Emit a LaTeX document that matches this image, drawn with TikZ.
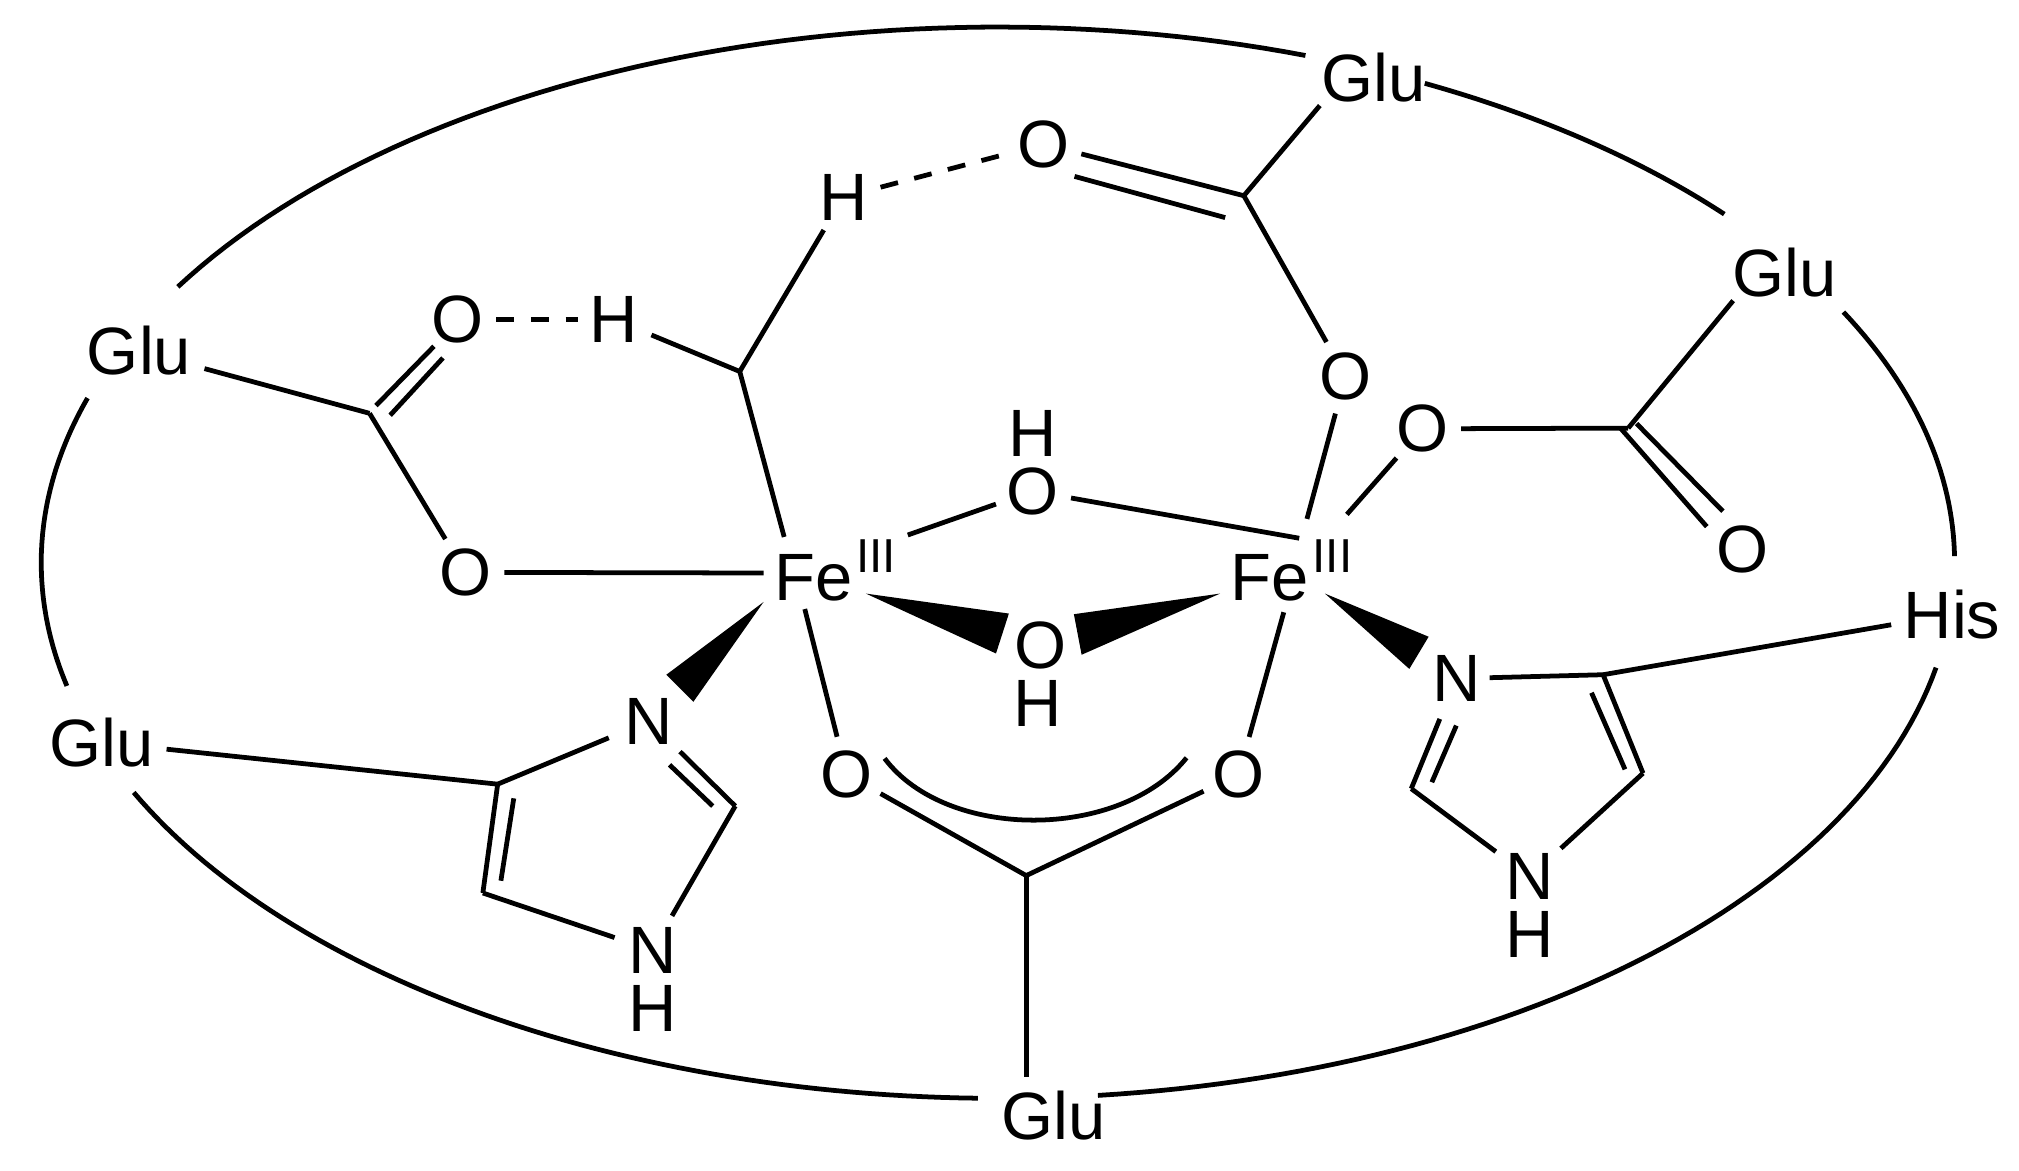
\documentclass[tikz,border=0pt]{standalone}
\usepackage{fontspec}
\setmainfont{Liberation Sans}
\newcommand{\ringarc}[2]{\draw[bond] plot[domain=#1:#2,samples=60] ({775+743*cos(\x)},{437+416*sin(\x)});}
\tikzset{
  x=1pt,y=-1pt,
  bond/.style={line width=3.7pt,line join=miter,black},
  hbond/.style={bond,dash pattern=on 14pt off 13pt},
  wedge/.style={fill=black,draw=none},
  atom/.style={circle,inner sep=0pt,outer sep=#1,font=\fontsize{52}{52}\selectfont},
  atom/.default=3pt,
  iron/.style={inner sep=0pt,anchor=base west,font=\fontsize{52}{52}\selectfont},
}
\newcommand{\ferric}{Fe\kern3pt\raisebox{21pt}{\fontsize{37}{37}\selectfont III}}
\begin{document}
\begin{tikzpicture}
\useasboundingbox (0,0) rectangle (1568,909.4);
% residue labels
\node[atom=0pt] (gluT) at (1067,60.5) {Glu};
\node[atom=0pt] (gluR) at (1386,212) {Glu};
\node[atom=0pt] (gluL) at (108,272.5) {Glu};
\node[atom=0pt] (gluB) at (79,576.5) {Glu};
\node[atom=0pt] (gluS) at (818,866) {Glu};
\node[atom=0pt] (his) at (1516,477) {His};
% iron centres
\node[iron] (feL) at (601,466) {\ferric};
\node[iron] (feR) at (955.5,466) {\ferric};
% atoms
\node[atom] (oHT) at (810.5,112) {O};
\node[atom=4pt] (hT) at (655,153) {H};
\node[atom] (oA) at (355,248) {O};
\node[atom=6pt] (hA) at (476.5,248) {H};
\node[atom] (oL) at (361.5,444.5) {O};
\node[atom] (oG) at (1045,292) {O};
\node[atom] (oR) at (1104.5,333) {O};
\node[atom] (oRd) at (1353,426.5) {O};
\node[atom] (oUp) at (802,381.5) {O};
\node[atom] (hUp) at (802,337) {H};
\node[atom] (oDn) at (808,501.5) {O};
\node[atom] (hDn) at (805.5,546.5) {H};
\node[atom] (oBL) at (657.5,601.5) {O};
\node[atom] (oBR) at (962,601.5) {O};
\node[atom=8pt] (nL) at (504,560) {N};
\node[atom=5pt] (nhL) at (506.5,738) {N};
\node[atom] (hL) at (506.5,783) {H};
\node[atom=0pt] (nR) at (1131,527) {N};
\node[atom=7pt] (nhR) at (1188,681) {N};
\node[atom] (hR) at (1188,726) {H};
% skeleton vertices
\coordinate (cT) at (966,152);
\coordinate (cR) at (1264.5,332.5);
\coordinate (cA) at (287,321);
\coordinate (cH) at (574.5,288.5);
\coordinate (cB) at (797,680);
\coordinate (cL1) at (386.5,609);
\coordinate (cL2) at (375,693.5);
\coordinate (cL3) at (571,626);
\coordinate (cR1) at (1245,524);
\coordinate (cR2) at (1276,600.5);
\coordinate (cR3) at (1096,612.5);
% ports on the iron centres and residue labels
\coordinate (fL1) at (609,417);
\coordinate (fL2) at (705,415.5);
\coordinate (fL3) at (593,445);
\coordinate (fL4) at (625,473);
\coordinate (fR1) at (1009,418);
\coordinate (fR2) at (1015,403);
\coordinate (fR3) at (1046,399.5);
\coordinate (fR4) at (997,475.5);
\coordinate (gT) at (1025,82);
\coordinate (gR) at (1346,233.5);
% outer ring
\ringarc{211}{288.75}
\ringarc{296.5}{319.4}
\ringarc{-27.9}{-0.7}
\ringarc{11.3}{84}
\ringarc{91.2}{154.6}
\ringarc{166.7}{197.9}
% top carboxylate
\draw[bond] (gT) -- (cT);
\draw[bond] (oHT) -- (cT);
\coordinate (dT1) at (834.5,137); \coordinate (dT2) at (951.5,169);
\draw[bond] (dT1) -- (dT2);
\draw[bond] (cT) -- (oG);
\draw[bond] (oG) -- (fR2);
% right carboxylate
\draw[bond] (gR) -- (cR);
\draw[bond] (oR) -- (cR);
\draw[bond] (oR) -- (fR3);
\coordinate (dR1) at (1258.5,332.5); \coordinate (dR2) at (1325.5,409);
\coordinate (dR3) at (1271,329); \coordinate (dR4) at (1338,397);
\draw[bond] (dR1) -- (dR2);
\draw[bond] (dR3) -- (dR4);
% left carboxylate
\draw[bond,shorten <=8pt] (gluL) -- (cA);
\draw[bond] (cA) -- (oL);
\coordinate (dA1) at (292,315); \coordinate (dA2) at (337,269);
\coordinate (dA3) at (303,322.5); \coordinate (dA4) at (344,278);
\draw[bond] (dA1) -- (dA2);
\draw[bond] (dA3) -- (dA4);
\draw[bond] (oL) -- (fL3);
% methyl group
\draw[bond] (fL1) -- (cH);
\draw[bond] (cH) -- (hT);
\draw[bond] (cH) -- (hA);
\draw[hbond] (hT) -- (oHT);
\draw[hbond,shorten >=-4pt] (oA) -- (hA);
% hydroxo bridges
\draw[bond] (fL2) -- (oUp);
\draw[bond] (oUp) -- (fR1);
\coordinate (wL0) at (672.5,461); \coordinate (wL1) at (783.5,476.5); \coordinate (wL2) at (773.5,507.5);
\fill[wedge] (wL0) -- (wL1) -- (wL2) -- cycle;
\coordinate (wR0) at (947.5,461); \coordinate (wR1) at (834,477); \coordinate (wR2) at (840,508.5);
\fill[wedge] (wR0) -- (wR1) -- (wR2) -- cycle;
% bridging carboxylate
\draw[bond] (fL4) -- (oBL);
\draw[bond] (fR4) -- (oBR);
\coordinate (aL) at (687,589); \coordinate (aR) at (921.5,588.5);
\draw[bond] (aL) .. controls (735,653) and (870,653) .. (aR);
\draw[bond] (oBL) -- (cB);
\draw[bond] (oBR) -- (cB);
\coordinate (cBe) at (797,836.5);
\draw[bond] (cB) -- (cBe);
% left imidazole
\coordinate (wN0) at (593,467.5); \coordinate (wN1) at (517.5,524); \coordinate (wN2) at (538.5,545);
\fill[wedge] (wN0) -- (wN1) -- (wN2) -- cycle;
\draw[bond,shorten <=6pt] (gluB) -- (cL1);
\draw[bond] (cL1) -- (nL);
\draw[bond] (nL) -- (cL3);
\coordinate (dL1) at (520,594); \coordinate (dL2) at (553.5,626);
\draw[bond] (dL1) -- (dL2);
\draw[bond] (cL3) -- (nhL);
\draw[bond] (nhL) -- (cL2);
\draw[bond] (cL2) -- (cL1);
\coordinate (dL3) at (399,620); \coordinate (dL4) at (389,684);
\draw[bond] (dL3) -- (dL4);
% right imidazole
\coordinate (wM0) at (1029,461); \coordinate (wM1) at (1109.5,494.5); \coordinate (wM2) at (1094.5,519.5);
\fill[wedge] (wM0) -- (wM1) -- (wM2) -- cycle;
\draw[bond] (nR) -- (cR1);
\draw[bond,shorten >=6pt] (cR1) -- (his);
\draw[bond] (cR1) -- (cR2);
\coordinate (dN1) at (1236,538); \coordinate (dN2) at (1262,597.5);
\draw[bond] (dN1) -- (dN2);
\draw[bond] (cR2) -- (nhR);
\draw[bond] (nhR) -- (cR3);
\draw[bond,shorten >=8pt] (cR3) -- (nR);
\coordinate (dN3) at (1112,607.5); \coordinate (dN4) at (1131,563.5);
\draw[bond] (dN3) -- (dN4);
\end{tikzpicture}
\end{document}
